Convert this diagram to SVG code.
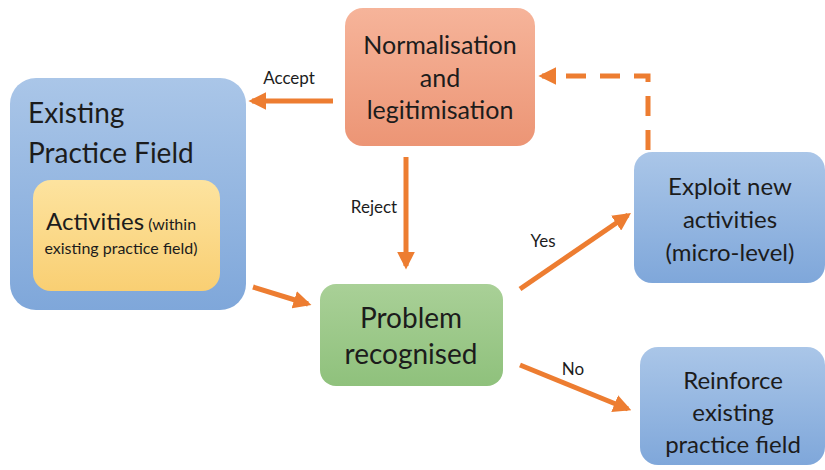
<svg xmlns="http://www.w3.org/2000/svg" width="825" height="470" viewBox="0 0 825 470">
  <defs>
    <linearGradient id="gBlue" x1="0" y1="0" x2="0" y2="1">
      <stop offset="0" stop-color="#aac6e8"/>
      <stop offset="1" stop-color="#7fa7da"/>
    </linearGradient>
    <linearGradient id="gOrange" x1="0" y1="0" x2="0" y2="1">
      <stop offset="0" stop-color="#f6b49a"/>
      <stop offset="1" stop-color="#ec9575"/>
    </linearGradient>
    <linearGradient id="gGreen" x1="0" y1="0" x2="0" y2="1">
      <stop offset="0" stop-color="#a9d097"/>
      <stop offset="1" stop-color="#8fc17c"/>
    </linearGradient>
    <linearGradient id="gYellow" x1="0" y1="0" x2="0" y2="1">
      <stop offset="0" stop-color="#fde39f"/>
      <stop offset="1" stop-color="#f9cf73"/>
    </linearGradient>
    <marker id="head" viewBox="0 0 10 10" refX="8" refY="5" markerWidth="3.6" markerHeight="3.6" orient="auto" markerUnits="strokeWidth">
      <path d="M0,0 L10,5 L0,10 Z" fill="#ed7d31"/>
    </marker>
  </defs>
  <style>
    text { font-family: Lato, "Open Sans", "Liberation Sans", sans-serif; fill: #1c1c1c; }
    .c { text-anchor: middle; }
    .lbl { font-size: 17px; text-anchor: middle; }
    .arrow { stroke: #ed7d31; stroke-width: 5; fill: none; marker-end: url(#head); }
    .dash { stroke-dasharray: 20 14; }
  </style>
  <rect width="825" height="470" fill="#ffffff"/>

  <g id="existing-practice-field">
    <rect x="10" y="78" width="236" height="232" rx="26" fill="url(#gBlue)"/>
    <text x="28" y="123" font-size="28">Existing</text>
    <text x="28" y="163" font-size="28">Practice Field</text>
  </g>

  <g id="activities">
    <rect x="33" y="180" width="187" height="111" rx="18" fill="url(#gYellow)"/>
    <text x="46" y="230"><tspan font-size="24">Activities</tspan><tspan font-size="16"> (within</tspan></text>
    <text x="121" y="254" font-size="16" text-anchor="middle">existing practice field)</text>
  </g>

  <g id="normalisation">
    <rect x="345" y="8" width="190" height="138" rx="18" fill="url(#gOrange)"/>
    <text class="c" x="440" y="54" font-size="25">Normalisation</text>
    <text class="c" x="440" y="87" font-size="25">and</text>
    <text class="c" x="440" y="119" font-size="25">legitimisation</text>
  </g>

  <g id="problem-recognised">
    <rect x="320" y="284" width="183" height="102" rx="16" fill="url(#gGreen)"/>
    <text class="c" x="411" y="328" font-size="28">Problem</text>
    <text class="c" x="411" y="364" font-size="28">recognised</text>
  </g>

  <g id="exploit-new-activities">
    <rect x="634" y="152" width="191" height="131" rx="18" fill="url(#gBlue)"/>
    <text class="c" x="730" y="195" font-size="24">Exploit new</text>
    <text class="c" x="730" y="228" font-size="24">activities</text>
    <text class="c" x="730" y="261" font-size="24">(micro-level)</text>
  </g>

  <g id="reinforce-existing-practice-field">
    <rect x="640" y="347" width="185" height="118" rx="18" fill="url(#gBlue)"/>
    <text class="c" x="733" y="389" font-size="24">Reinforce</text>
    <text class="c" x="733" y="421" font-size="24">existing</text>
    <text class="c" x="733" y="453" font-size="24">practice field</text>
  </g>

  <g id="connectors">
    <line class="arrow" x1="333" y1="101" x2="252" y2="101"/>
    <text class="lbl" x="289" y="84">Accept</text>

    <line class="arrow" x1="406" y1="157" x2="406" y2="266"/>
    <text class="lbl" x="374" y="213">Reject</text>

    <line class="arrow" x1="253" y1="287" x2="308" y2="304"/>

    <line class="arrow" x1="520" y1="289" x2="628" y2="215"/>
    <text class="lbl" x="543" y="247">Yes</text>

    <line class="arrow" x1="520" y1="365" x2="628" y2="409"/>
    <text class="lbl" x="573" y="375">No</text>

    <polyline class="arrow dash" points="648,150 648,76 542,76"/>
  </g>
</svg>
